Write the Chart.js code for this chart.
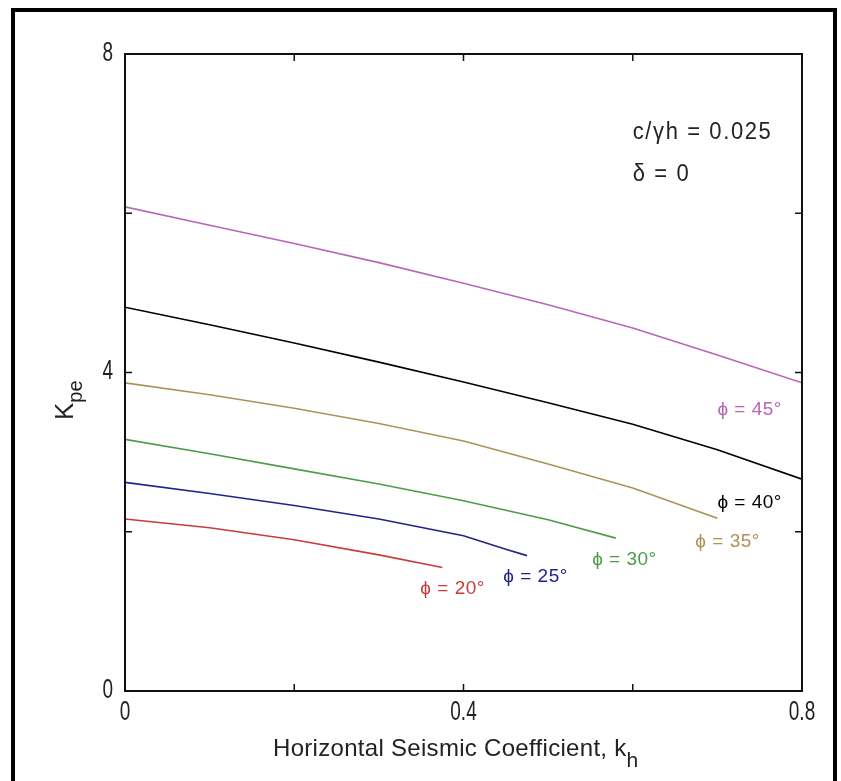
<!DOCTYPE html>
<html>
<head>
<meta charset="utf-8">
<script src="https://cdn.jsdelivr.net/npm/chart.js@4.4.1/dist/chart.umd.min.js"></script>
<style>
    html, body { margin: 0; padding: 0; background: #fff; }
    #wrap { width: 841px; height: 781px; position: relative; }
</style>
</head>
<body>
<div id="wrap"><canvas id="kpeChart" width="841" height="781"></canvas></div>
<script>
// ticks de los ejes
var khTicks = [0, 0.2, 0.4, 0.6, 0.8];
var khTickLabels = ['0', '', '0.4', '', '0.8'];
var kpeTicks = [0, 2, 4, 6, 8];
var kpeTickLabels = ['0', '', '4', '', '8'];

// curvas Kpe vs kh
var phiNames = ['ϕ = 20°', 'ϕ = 25°', 'ϕ = 30°', 'ϕ = 35°', 'ϕ = 40°', 'ϕ = 45°'];
var kh20 = [0, 0.1, 0.2, 0.3, 0.375];
var kpe20 = [2.16, 2.05, 1.90, 1.71, 1.55];
var kh25 = [0, 0.1, 0.2, 0.3, 0.4, 0.45, 0.475];
var kpe25 = [2.62, 2.48, 2.33, 2.16, 1.95, 1.78, 1.70];
var kh30 = [0, 0.1, 0.2, 0.3, 0.4, 0.5, 0.58];
var kpe30 = [3.16, 2.98, 2.79, 2.60, 2.39, 2.15, 1.92];
var kh35 = [0, 0.1, 0.2, 0.3, 0.4, 0.5, 0.6, 0.7];
var kpe35 = [3.87, 3.72, 3.55, 3.36, 3.14, 2.85, 2.55, 2.17];
var kh40 = [0, 0.1, 0.2, 0.3, 0.4, 0.5, 0.6, 0.7, 0.8];
var kpe40 = [4.82, 4.60, 4.37, 4.13, 3.88, 3.62, 3.35, 3.03, 2.66];
var kh45 = [0, 0.1, 0.2, 0.3, 0.4, 0.5, 0.6, 0.7, 0.8];
var kpe45 = [6.08, 5.85, 5.62, 5.38, 5.12, 4.85, 4.56, 4.22, 3.87];

var colores = ['#c83c3c', '#22228c', '#4c9c4c', '#b0905a', '#000000', '#b866b8'];

// donde van los rótulos de cada curva (en unidades de los ejes)
var rotulos = [
    { x: 0.349, y: 1.29 },
    { x: 0.447, y: 1.43 },
    { x: 0.552, y: 1.65 },
    { x: 0.674, y: 1.87 },
    { x: 0.700, y: 2.36 },
    { x: 0.700, y: 3.53 }
];

function puntos(xs, ys) {
    return xs.map(function (v, i) { return { x: v, y: ys[i] }; });
}

function texto(ctx, str, x, y, font, color, align, escalaY, espacio) {
    ctx.save();
    ctx.font = font;
    ctx.fillStyle = color;
    ctx.textAlign = align || 'left';
    ctx.textBaseline = 'middle';
    if (espacio) ctx.letterSpacing = espacio;
    ctx.translate(x, y);
    ctx.scale(1, escalaY || 1);
    ctx.fillText(str, 0, 0);
    ctx.restore();
}

var series = [[kh20, kpe20], [kh25, kpe25], [kh30, kpe30], [kh35, kpe35], [kh40, kpe40], [kh45, kpe45]];

var marco = {
    id: 'marco',
    afterDraw: function (chart) {
        var ctx = chart.ctx;
        var a = chart.chartArea;
        var sx = chart.scales.x;
        var sy = chart.scales.y;

        // borde de la imagen
        ctx.save();
        ctx.fillStyle = '#000';
        ctx.fillRect(11, 8, 4, 781);
        ctx.fillRect(11, 8, 826, 4);
        ctx.fillRect(833, 8, 4, 781);

        // caja del gráfico
        ctx.strokeStyle = '#111';
        ctx.lineWidth = 2;
        ctx.strokeRect(a.left, a.top, a.right - a.left, a.bottom - a.top);

        ctx.lineWidth = 1.5;
        ctx.beginPath();
        khTicks.forEach(function (t) {
            var px = sx.getPixelForValue(t);
            ctx.moveTo(px, a.bottom); ctx.lineTo(px, a.bottom - 7);
            ctx.moveTo(px, a.top); ctx.lineTo(px, a.top + 7);
        });
        kpeTicks.forEach(function (t) {
            var py = sy.getPixelForValue(t);
            ctx.moveTo(a.left, py); ctx.lineTo(a.left + 7, py);
            ctx.moveTo(a.right, py); ctx.lineTo(a.right - 7, py);
        });
        ctx.stroke();
        ctx.restore();

        khTicks.forEach(function (t, i) {
            if (khTickLabels[i]) {
                texto(ctx, khTickLabels[i], sx.getPixelForValue(t), a.bottom + 21, '19px "Liberation Sans", Arial', '#222', 'center', 1.45);
            }
        });
        kpeTicks.forEach(function (t, i) {
            if (kpeTickLabels[i]) {
                texto(ctx, kpeTickLabels[i], a.left - 12, sy.getPixelForValue(t) - 1, '19px "Liberation Sans", Arial', '#222', 'right', 1.45);
            }
        });

        // título eje x con subíndice
        ctx.save();
        ctx.font = '24px "Liberation Sans", Arial';
        ctx.letterSpacing = '0.3px';
        ctx.fillStyle = '#222';
        ctx.textBaseline = 'alphabetic';
        var t1 = 'Horizontal Seismic Coefficient, k';
        ctx.fillText(t1, 273, 756);
        var w1 = ctx.measureText(t1).width;
        ctx.font = '21px "Liberation Sans", Arial';
        ctx.fillText('h', 273 + w1, 767);
        ctx.restore();

        // título eje y
        ctx.save();
        ctx.translate(73, 420);
        ctx.rotate(-Math.PI / 2);
        ctx.fillStyle = '#222';
        ctx.textBaseline = 'alphabetic';
        ctx.font = '26px "Liberation Sans", Arial';
        ctx.fillText('K', 0, 0);
        var wk = ctx.measureText('K').width;
        ctx.font = '20px "Liberation Sans", Arial';
        ctx.fillText('pe', wk, 9);
        ctx.restore();

        // rótulos de las curvas
        rotulos.forEach(function (r, i) {
            texto(ctx, phiNames[i], sx.getPixelForValue(r.x), sy.getPixelForValue(r.y), '19px "Liberation Sans", Arial', colores[i], 'left', 1, '0.5px');
        });

        texto(ctx, 'c/γh = 0.025', sx.getPixelForValue(0.6), sy.getPixelForValue(7.01), '22px "Liberation Sans", Arial', '#222', 'left', 1.05, '1.6px');
        texto(ctx, 'δ = 0', sx.getPixelForValue(0.6), sy.getPixelForValue(6.48), '22px "Liberation Sans", Arial', '#222', 'left', 1.05, '1.6px');
    }
};

var ctx = document.getElementById('kpeChart').getContext('2d');
var grafico = new Chart(ctx, {
    type: 'scatter',
    data: {
        datasets: series.map(function (s, i) {
            return {
                label: phiNames[i],
                data: puntos(s[0], s[1]),
                showLine: true,
                borderColor: colores[i],
                backgroundColor: colores[i],
                borderWidth: 1.6,
                pointRadius: 0,
                tension: 0
            };
        })
    },
    options: {
        responsive: false,
        animation: false,
        layout: { padding: { left: 125, top: 54, right: 39, bottom: 90 } },
        plugins: {
            legend: { display: false },
            tooltip: { enabled: false }
        },
        scales: {
            x: { type: 'linear', min: 0, max: 0.8, display: false },
            y: { type: 'linear', min: 0, max: 8, display: false }
        }
    },
    plugins: [marco]
});
</script>
</body>
</html>
